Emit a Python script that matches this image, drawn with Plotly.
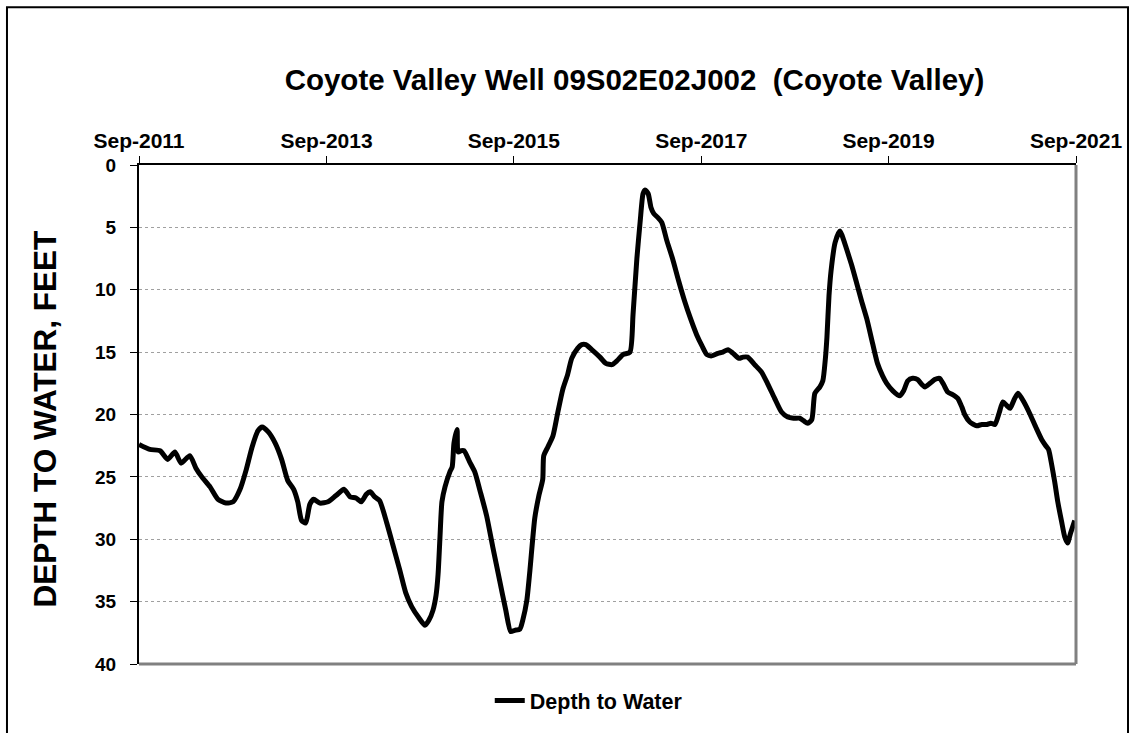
import plotly.graph_objects as go

dates = [
    "2011-09-01", "2011-10-13", "2011-11-22", "2011-12-22", "2012-01-19", "2012-02-12",
    "2012-03-17", "2012-04-10", "2012-05-03", "2012-06-04", "2012-07-05", "2012-08-05",
    "2012-09-02", "2012-09-29", "2012-10-22", "2012-11-15", "2012-12-08", "2012-12-24",
    "2013-01-17", "2013-02-13", "2013-03-10", "2013-04-03", "2013-04-26", "2013-05-12",
    "2013-05-27", "2013-06-12", "2013-06-28", "2013-07-13", "2013-08-06", "2013-09-07",
    "2013-10-08", "2013-11-08", "2013-12-02", "2013-12-25", "2014-01-14", "2014-02-03",
    "2014-02-18", "2014-03-08", "2014-03-27", "2014-04-24", "2014-05-17", "2014-06-14",
    "2014-07-07", "2014-07-30", "2014-08-27", "2014-09-20", "2014-10-05", "2014-10-21",
    "2014-11-02", "2014-11-10", "2014-11-17", "2014-11-25", "2014-12-07", "2014-12-26",
    "2015-01-04", "2015-01-11", "2015-01-23", "2015-01-27", "2015-02-08", "2015-02-19",
    "2015-03-13", "2015-04-02", "2015-04-25", "2015-05-18", "2015-06-11", "2015-07-08",
    "2015-08-01", "2015-08-20", "2015-09-05", "2015-09-25", "2015-10-06", "2015-10-22",
    "2015-11-03", "2015-11-22", "2015-12-08", "2015-12-23", "2015-12-27", "2016-01-12",
    "2016-02-01", "2016-02-20", "2016-03-10", "2016-03-29", "2016-04-14", "2016-05-07",
    "2016-05-23", "2016-06-08", "2016-07-01", "2016-08-02", "2016-08-25", "2016-09-18",
    "2016-10-07", "2016-10-31", "2016-11-27", "2016-12-09", "2016-12-24", "2017-01-06",
    "2017-01-17", "2017-01-25", "2017-02-06", "2017-02-17", "2017-02-28", "2017-03-15",
    "2017-03-31", "2017-04-19", "2017-05-12", "2017-06-05", "2017-06-28", "2017-07-21",
    "2017-08-14", "2017-09-04", "2017-09-23", "2017-10-12", "2017-11-05", "2017-11-24",
    "2017-12-14", "2018-01-03", "2018-01-26", "2018-02-11", "2018-03-01", "2018-03-28",
    "2018-04-24", "2018-05-17", "2018-06-14", "2018-07-11", "2018-08-04", "2018-08-27",
    "2018-09-20", "2018-10-05", "2018-10-21", "2018-11-06", "2018-11-18", "2018-12-07",
    "2018-12-19", "2018-12-29", "2019-01-04", "2019-01-12", "2019-01-20", "2019-02-05",
    "2019-02-24", "2019-03-10", "2019-03-21", "2019-04-10", "2019-04-29", "2019-05-19",
    "2019-06-08", "2019-07-01", "2019-07-20", "2019-08-09", "2019-08-25", "2019-09-18",
    "2019-10-15", "2019-10-30", "2019-11-15", "2019-12-04", "2019-12-24", "2020-01-09",
    "2020-01-21", "2020-02-10", "2020-02-28", "2020-03-18", "2020-04-03", "2020-04-19",
    "2020-05-08", "2020-05-28", "2020-06-13", "2020-06-24", "2020-07-14", "2020-08-10",
    "2020-08-30", "2020-09-19", "2020-10-04", "2020-10-20", "2020-11-05", "2020-11-20",
    "2020-12-06", "2020-12-18", "2021-01-03", "2021-01-18", "2021-02-10", "2021-03-04",
    "2021-03-28", "2021-04-20", "2021-05-06", "2021-05-17", "2021-05-29", "2021-06-10",
    "2021-06-22", "2021-07-07", "2021-07-19", "2021-07-30", "2021-08-11", "2021-08-27",
]

depth_ft = [
    22.4, 22.8, 22.9, 23.6, 23.0, 23.9,
    23.3, 24.3, 25.0, 25.8, 26.8, 27.1,
    27.0, 26.0, 24.5, 22.6, 21.3, 21.0,
    21.4, 22.3, 23.6, 25.3, 26.0, 27.0,
    28.5, 28.7, 27.2, 26.8, 27.1, 27.0,
    26.5, 26.0, 26.6, 26.7, 27.0, 26.4,
    26.2, 26.6, 26.9, 28.7, 30.4, 32.5,
    34.3, 35.4, 36.3, 36.9, 36.5, 35.7,
    34.5, 32.8, 30.0, 27.0, 25.8, 24.6,
    24.2, 22.3, 21.2, 23.0, 22.9, 22.9,
    23.8, 24.6, 26.3, 28.1, 30.6, 33.3,
    35.7, 37.4, 37.3, 37.2, 36.5, 34.9,
    32.5, 28.3, 26.5, 25.2, 23.3, 22.6,
    21.7, 19.8, 18.0, 16.8, 15.5, 14.7,
    14.4, 14.4, 14.8, 15.4, 15.9, 16.0,
    15.7, 15.2, 15.0, 12.0, 7.5, 4.5,
    2.3, 2.0, 2.3, 3.4, 3.9, 4.2,
    4.6, 6.0, 7.5, 9.3, 10.9, 12.3,
    13.6, 14.5, 15.2, 15.3, 15.1, 15.0,
    14.8, 15.1, 15.5, 15.4, 15.4, 16.0,
    16.6, 17.5, 18.7, 19.8, 20.2, 20.3,
    20.3, 20.5, 20.7, 20.4, 18.3, 17.8,
    17.3, 15.5, 13.8, 10.5, 8.5, 6.2,
    5.3, 6.0, 6.7, 8.0, 9.4, 10.9,
    12.3, 14.3, 15.9, 16.9, 17.5, 18.1,
    18.5, 18.1, 17.3, 17.1, 17.2, 17.6,
    17.8, 17.5, 17.2, 17.1, 17.6, 18.2,
    18.4, 18.7, 19.4, 20.0, 20.6, 20.9,
    20.8, 20.8, 20.7, 20.8, 19.9, 19.0,
    19.3, 19.5, 18.8, 18.3, 19.0, 19.9,
    21.0, 22.0, 22.5, 22.8, 24.0, 25.4,
    27.0, 28.6, 29.8, 30.3, 29.5, 28.5,
]

tick_dates = ["2011-09-01", "2013-09-01", "2015-09-01", "2017-09-01", "2019-09-01", "2021-09-01"]
tick_labels = ["Sep-2011", "Sep-2013", "Sep-2015", "Sep-2017", "Sep-2019", "Sep-2021"]
y_ticks = [0, 5, 10, 15, 20, 25, 30, 35, 40]

FONT = "Arial, 'Liberation Sans', sans-serif"

fig = go.Figure()
fig.add_trace(go.Scatter(
    x=dates, y=depth_ft, mode="lines", name="Depth to Water",
    line=dict(color="black", width=5, shape="spline", smoothing=0.6),
))

fig.update_layout(
    width=1135, height=733,
    paper_bgcolor="white", plot_bgcolor="white",
    margin=dict(l=139, r=59, t=165, b=62),
    font=dict(family=FONT, color="black"),
    title=dict(
        text="Coyote Valley Well 09S02E02J002  (Coyote Valley)",
        x=0.559, xanchor="center", y=0.891, yanchor="middle",
        font=dict(family=FONT, size=29.5, weight="bold", color="black"),
    ),
    showlegend=True,
    legend=dict(
        orientation="h", x=0.48, xanchor="center", y=-0.073, yanchor="middle",
        font=dict(family=FONT, size=21.5, weight="bold", color="black"),
        bgcolor="rgba(0,0,0,0)",
    ),
    xaxis=dict(
        type="date", side="top",
        range=["2011-09-01", "2021-09-01"],
        tickvals=tick_dates, ticktext=tick_labels,
        ticks="outside", ticklen=7, tickwidth=1, tickcolor="black",
        ticklabelstandoff=0,
        showline=True, linecolor="black", linewidth=2,
        showgrid=False, zeroline=False,
        tickfont=dict(family=FONT, size=21, weight="bold", color="black"),
    ),
    yaxis=dict(
        range=[40, 0], tickvals=y_ticks,
        ticks="outside", ticklen=7, tickwidth=1, tickcolor="black",
        ticklabelstandoff=10,
        showline=True, linecolor="black", linewidth=2,
        showgrid=True, gridcolor="#a0a0a0", griddash="dot", gridwidth=1,
        zeroline=False,
        tickfont=dict(family=FONT, size=19, weight="bold", color="black"),
    ),
    annotations=[
        dict(text="DEPTH TO WATER, FEET", textangle=-90,
             xref="paper", yref="paper", x=-0.1003, y=0.49,
             xanchor="center", yanchor="middle", showarrow=False,
             font=dict(family=FONT, size=31.5, weight="bold", color="black")),
    ],
    shapes=[
        dict(type="line", xref="paper", yref="paper", x0=1, x1=1, y0=0, y1=1,
             line=dict(color="#808080", width=3)),
        dict(type="line", xref="paper", yref="paper", x0=0, x1=1, y0=0, y1=0,
             line=dict(color="#808080", width=3)),
        dict(type="rect", xref="paper", yref="paper",
             x0=-0.1409, x1=1.0555, y0=-0.16, y1=1.316,
             line=dict(color="black", width=2), fillcolor="rgba(0,0,0,0)"),
    ],
)

fig.write_html("out.html", post_script="document.body.style.margin='0';",
               config={"displayModeBar": False})
